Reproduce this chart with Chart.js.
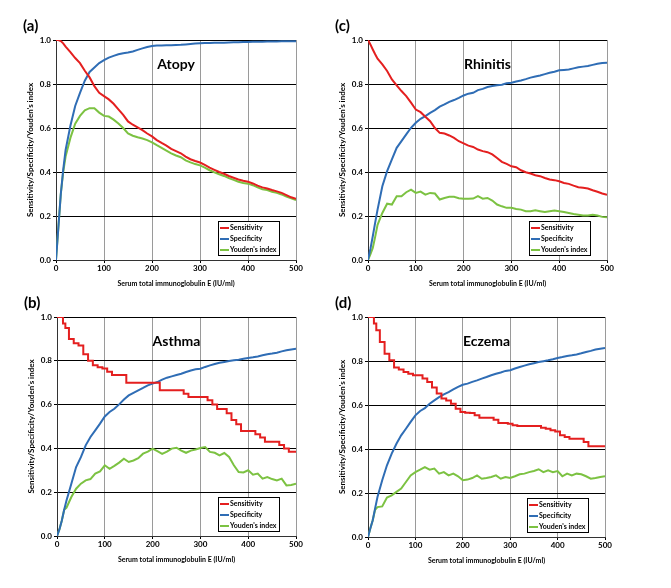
<!DOCTYPE html>
<html>
<head>
<meta charset="utf-8">
<script src="https://cdn.jsdelivr.net/npm/chart.js@4.4.1/dist/chart.umd.min.js"></script>
<style>
body { margin: 0; background: #fff; }
#wrap { position: relative; width: 671px; height: 588px; background: #fff; }
canvas { position: absolute; }
</style>
</head>
<body>
<div id="wrap">
  <canvas id="cA" width="310" height="294" style="left:16px;top:0px"></canvas>
  <canvas id="cC" width="309" height="294" style="left:328px;top:0px"></canvas>
  <canvas id="cB" width="309" height="293" style="left:17px;top:277px"></canvas>
  <canvas id="cD" width="307" height="294" style="left:328px;top:277px"></canvas>
</div>
<script>
// serum total IgE cut-offs (IU/ml)
var ige = [0, 5, 10, 15, 20, 30, 40, 50, 60, 70, 80, 90, 100, 110, 120, 130, 140, 150, 160, 170, 180, 190, 200,
  210, 220, 230, 240, 250, 260, 270, 280, 290, 300, 310, 320, 330, 340, 350, 360, 370, 380, 390, 400,
  410, 420, 430, 440, 450, 460, 470, 480, 490, 500];
var xTicks = [0, 100, 200, 300, 400, 500];
var yTicks = [0, 0.2, 0.4, 0.6, 0.8, 1.0];
var seriesNames = ['Sensitivity', 'Specificity', "Youden's index"];
var seriesColors = ['#e41f1f', '#2f6db5', '#7cc242'];

// (a) Atopy
var atopySens = [1.0, 1.0, 0.995, 0.985, 0.97, 0.945, 0.918, 0.895, 0.86, 0.83, 0.79, 0.76, 0.745,
  0.73, 0.71, 0.685, 0.66, 0.63, 0.615, 0.603, 0.59, 0.575, 0.562, 0.545, 0.532, 0.52, 0.505, 0.495,
  0.485, 0.47, 0.458, 0.45, 0.443, 0.432, 0.42, 0.41, 0.4, 0.392, 0.382, 0.374, 0.366, 0.36, 0.356,
  0.348, 0.338, 0.33, 0.325, 0.318, 0.312, 0.305, 0.295, 0.285, 0.278];
var atopySpec = [0, 0.15, 0.3, 0.41, 0.5, 0.61, 0.7, 0.76, 0.815, 0.855, 0.875, 0.895, 0.908,
  0.92, 0.928, 0.935, 0.94, 0.943, 0.948, 0.955, 0.962, 0.968, 0.973, 0.975, 0.975, 0.976, 0.976, 0.977,
  0.978, 0.98, 0.982, 0.984, 0.985, 0.986, 0.986, 0.987, 0.988, 0.988, 0.989, 0.99, 0.99, 0.991, 0.991,
  0.992, 0.992, 0.992, 0.993, 0.993, 0.993, 0.994, 0.994, 0.994, 0.994];
var atopyYouden = [0, 0.15, 0.3, 0.4, 0.47, 0.555, 0.62, 0.655, 0.68, 0.69, 0.69, 0.67, 0.655,
  0.652, 0.638, 0.62, 0.6, 0.575, 0.565, 0.558, 0.552, 0.545, 0.535, 0.522, 0.51, 0.497, 0.485, 0.475,
  0.467, 0.453, 0.444, 0.436, 0.43, 0.42, 0.408, 0.398, 0.39, 0.382, 0.372, 0.364, 0.356, 0.35, 0.347,
  0.34, 0.33, 0.322, 0.318, 0.31, 0.305, 0.298, 0.288, 0.28, 0.272];

// (c) Rhinitis
var rhinitisSens = [1.0, 0.98, 0.957, 0.935, 0.915, 0.889, 0.859, 0.821, 0.794, 0.768, 0.745, 0.715, 0.684,
  0.672, 0.651, 0.631, 0.6, 0.578, 0.575, 0.566, 0.555, 0.54, 0.53, 0.52, 0.514, 0.502, 0.495, 0.49,
  0.48, 0.464, 0.446, 0.437, 0.426, 0.422, 0.408, 0.399, 0.393, 0.385, 0.381, 0.373, 0.366, 0.363, 0.358,
  0.35, 0.346, 0.338, 0.331, 0.328, 0.325, 0.317, 0.31, 0.302, 0.297];
var rhinitisSpec = [0, 0.05, 0.108, 0.17, 0.229, 0.335, 0.404, 0.457, 0.51, 0.54, 0.571, 0.601, 0.624,
  0.642, 0.654, 0.669, 0.681, 0.697, 0.707, 0.719, 0.727, 0.737, 0.748, 0.756, 0.76, 0.772, 0.778, 0.786,
  0.791, 0.794, 0.797, 0.803, 0.806, 0.811, 0.816, 0.822, 0.829, 0.834, 0.839, 0.845, 0.851, 0.856, 0.862,
  0.864, 0.866, 0.871, 0.876, 0.879, 0.882, 0.887, 0.892, 0.895, 0.897];
var rhinitisYouden = [0, 0.025, 0.055, 0.105, 0.16, 0.214, 0.256, 0.252, 0.29, 0.29, 0.308, 0.32, 0.305,
  0.311, 0.297, 0.305, 0.302, 0.275, 0.282, 0.287, 0.287, 0.281, 0.278, 0.278, 0.279, 0.29, 0.279, 0.282,
  0.27, 0.252, 0.244, 0.237, 0.237, 0.232, 0.229, 0.222, 0.222, 0.226, 0.222, 0.218, 0.222, 0.225, 0.222,
  0.218, 0.214, 0.209, 0.206, 0.202, 0.202, 0.206, 0.202, 0.196, 0.194];

// (b) Asthma
var asthmaSens = [1.0, 1.0, 1.0, 0.97, 0.95, 0.9, 0.88, 0.87, 0.83, 0.8, 0.78, 0.77, 0.765,
  0.75, 0.735, 0.735, 0.735, 0.7, 0.7, 0.7, 0.7, 0.7, 0.7, 0.7, 0.665, 0.665, 0.665, 0.665,
  0.665, 0.65, 0.635, 0.635, 0.635, 0.635, 0.62, 0.6, 0.58, 0.58, 0.56, 0.53, 0.51, 0.48, 0.48,
  0.48, 0.465, 0.45, 0.43, 0.43, 0.43, 0.415, 0.4, 0.385, 0.385];
var asthmaSpec = [0, 0.03, 0.07, 0.12, 0.163, 0.239, 0.315, 0.36, 0.414, 0.452, 0.482, 0.513, 0.546,
  0.566, 0.581, 0.601, 0.623, 0.642, 0.654, 0.665, 0.676, 0.688, 0.696, 0.703, 0.714, 0.723, 0.729, 0.735,
  0.741, 0.749, 0.756, 0.761, 0.764, 0.772, 0.779, 0.785, 0.791, 0.795, 0.799, 0.802, 0.805, 0.809, 0.813,
  0.816, 0.82, 0.825, 0.83, 0.833, 0.837, 0.843, 0.848, 0.852, 0.855];
var asthmaYouden = [0, 0.03, 0.07, 0.12, 0.13, 0.178, 0.216, 0.239, 0.254, 0.26, 0.285, 0.295, 0.323,
  0.307, 0.32, 0.335, 0.353, 0.338, 0.345, 0.355, 0.376, 0.385, 0.399, 0.387, 0.375, 0.385, 0.399, 0.403,
  0.39, 0.38, 0.39, 0.395, 0.402, 0.406, 0.384, 0.38, 0.368, 0.379, 0.361, 0.323, 0.292, 0.29, 0.3,
  0.28, 0.285, 0.262, 0.269, 0.26, 0.254, 0.262, 0.231, 0.233, 0.239];

// (d) Eczema
var eczemaSens = [1.0, 1.0, 1.0, 0.97, 0.94, 0.886, 0.833, 0.803, 0.77, 0.761, 0.75, 0.742, 0.735,
  0.735, 0.72, 0.705, 0.679, 0.652, 0.629, 0.621, 0.606, 0.583, 0.568, 0.565, 0.564, 0.553, 0.542, 0.542,
  0.542, 0.533, 0.518, 0.518, 0.515, 0.508, 0.505, 0.505, 0.505, 0.505, 0.505, 0.497, 0.492, 0.485, 0.48,
  0.462, 0.455, 0.447, 0.447, 0.447, 0.432, 0.412, 0.412, 0.412, 0.412];
var eczemaSpec = [0, 0.04, 0.076, 0.13, 0.182, 0.258, 0.326, 0.379, 0.424, 0.462, 0.492, 0.523, 0.553,
  0.573, 0.586, 0.606, 0.621, 0.636, 0.648, 0.659, 0.671, 0.682, 0.692, 0.697, 0.705, 0.712, 0.72, 0.727,
  0.735, 0.742, 0.748, 0.755, 0.758, 0.766, 0.773, 0.779, 0.785, 0.79, 0.795, 0.799, 0.803, 0.808, 0.814,
  0.818, 0.823, 0.826, 0.83, 0.835, 0.841, 0.846, 0.852, 0.856, 0.859];
var eczemaYouden = [0, 0.04, 0.076, 0.124, 0.136, 0.139, 0.179, 0.189, 0.205, 0.22, 0.25, 0.28, 0.295,
  0.306, 0.318, 0.306, 0.311, 0.288, 0.295, 0.28, 0.288, 0.276, 0.258, 0.261, 0.268, 0.28, 0.265, 0.268,
  0.273, 0.28, 0.265, 0.273, 0.268, 0.276, 0.285, 0.288, 0.295, 0.3, 0.308, 0.295, 0.303, 0.295, 0.3,
  0.276, 0.288, 0.28, 0.288, 0.285, 0.276, 0.265, 0.268, 0.273, 0.276];

var FONT = 'Lato, "Open Sans", sans-serif';

// panel letter, disease name and the boxed legend inside the plot
var panelText = {
  id: 'panelText',
  afterDraw: function (chart) {
    var o = chart.options.plugins.panelText;
    var a = chart.chartArea;
    var ctx = chart.ctx;
    ctx.save();
    ctx.fillStyle = '#000';
    ctx.font = 'bold 15px ' + FONT;
    ctx.textAlign = 'left';
    ctx.textBaseline = 'alphabetic';
    ctx.fillText(o.letter, a.left - 33, a.top - 9);
    ctx.font = 'bold 14px ' + FONT;
    ctx.textAlign = 'center';
    ctx.textBaseline = 'middle';
    ctx.fillText(o.title, (a.left + a.right) / 2, a.top + 24);

    var w = 61, h = 34;
    var x0 = a.right - 17 - w, y0 = a.bottom - 5 - h;
    ctx.fillStyle = '#fff';
    ctx.fillRect(x0, y0, w, h);
    ctx.strokeStyle = '#000';
    ctx.lineWidth = 1;
    ctx.strokeRect(x0 + 0.5, y0 + 0.5, w, h);
    ctx.font = 'bold 7px ' + FONT;
    ctx.textAlign = 'left';
    chart.data.datasets.forEach(function (ds, i) {
      var y = y0 + 7 + i * 11;
      ctx.strokeStyle = ds.borderColor;
      ctx.lineWidth = 2;
      ctx.beginPath();
      ctx.moveTo(x0 + 2, y);
      ctx.lineTo(x0 + 11, y);
      ctx.stroke();
      ctx.fillStyle = '#000';
      ctx.fillText(ds.label, x0 + 12, y);
    });
    ctx.restore();
  }
};

function pts(arr) {
  return ige.map(function (x, i) { return { x: x, y: arr[i] }; });
}

function makeChart(id, letter, title, sens, spec, youden, stepSens) {
  var values = [sens, spec, youden];
  new Chart(document.getElementById(id), {
    type: 'line',
    data: {
      datasets: values.map(function (v, i) {
        return {
          label: seriesNames[i],
          data: pts(v),
          borderColor: seriesColors[i],
          backgroundColor: seriesColors[i],
          borderWidth: 2,
          pointRadius: 0,
          fill: false,
          stepped: (i === 0 && stepSens) ? 'middle' : false
        };
      })
    },
    options: {
      responsive: false,
      animation: false,
      layout: { padding: { left: 10, right: 30, top: 40, bottom: 6 } },
      plugins: {
        legend: { display: false },
        tooltip: { enabled: false },
        panelText: { letter: letter, title: title }
      },
      scales: {
        x: {
          type: 'linear', min: 0, max: 500,
          afterBuildTicks: function (s) { s.ticks = xTicks.map(function (v) { return { value: v }; }); },
          ticks: { color: '#000', font: { family: FONT, size: 8, weight: 'bold' }, padding: 1, maxRotation: 0 },
          grid: { color: '#9a9a9a', tickColor: '#000', tickLength: 3 },
          border: { color: '#333' },
          title: {
            display: true, text: 'Serum total immunoglobulin E (IU/ml)', color: '#000',
            font: { family: FONT, size: 7, weight: 'bold' }, padding: { top: 3, bottom: 0 }
          },
          afterFit: function (s) { s.height = 28; }
        },
        y: {
          min: 0, max: 1,
          afterBuildTicks: function (s) { s.ticks = yTicks.map(function (v) { return { value: v }; }); },
          ticks: {
            color: '#000', font: { family: FONT, size: 8, weight: 'bold' }, padding: 2,
            callback: function (v) { return Number(v).toFixed(1); }
          },
          grid: { color: '#000', tickColor: '#000', tickLength: 3 },
          border: { color: '#333' },
          title: {
            display: true, text: "Sensitivity/Specificity/Youden's index", color: '#000',
            font: { family: FONT, size: 8, weight: 'bold' }, padding: { top: 0, bottom: 2 }
          },
          afterFit: function (s) { s.width = 30; }
        }
      }
    },
    plugins: [panelText]
  });
}

makeChart('cA', '(a)', 'Atopy', atopySens, atopySpec, atopyYouden, false);
makeChart('cC', '(c)', 'Rhinitis', rhinitisSens, rhinitisSpec, rhinitisYouden, false);
makeChart('cB', '(b)', 'Asthma', asthmaSens, asthmaSpec, asthmaYouden, true);
makeChart('cD', '(d)', 'Eczema', eczemaSens, eczemaSpec, eczemaYouden, true);
</script>
</body>
</html>
